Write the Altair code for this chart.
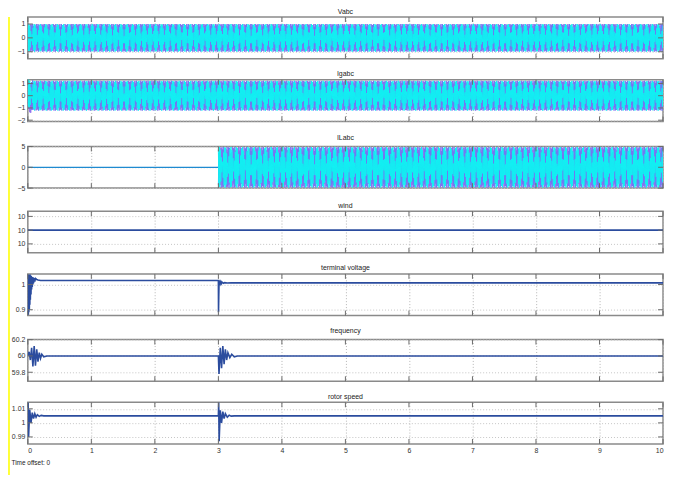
import numpy as np
import pandas as pd
import altair as alt

# ---------------- chart content ----------------
TITLES = ["Vabc", "Igabc", "ILabc", "wind", "terminal voltage", "frequency", "rotor speed"]
T_DOMAIN = [0, 10]
T_TICKS = [0, 1, 2, 3, 4, 5, 6, 7, 8, 9, 10]

# three-phase scope traces (60 Hz carrier, trace sample rate of the scope)
GRID_HZ = 60.0
TRACE_RATE = 131.0
PHASE_DEG = [0.0, -120.0, 120.0]
PHASE_COLORS = ["#8F6EEE", "#6E7AF2", "#12F0F2"]

VABC_AMP = 1.0
IGABC_AMP = 1.22
IGABC_DC = [-0.8, 0.4, 0.4]
IGABC_DC_TAU = 0.03
ILABC_AMP = 4.9
ILABC_START = 3.0

# y ranges and tick values
VABC_Y, VABC_TICKS = [-1.5, 1.5], [-1, 0, 1]
IGABC_Y, IGABC_TICKS = [-2.1, 1.3], [-2, -1, 0, 1]
ILABC_Y, ILABC_TICKS = [-5, 5], [-5, 0, 5]
WIND_Y, WIND_TICKS = [9.99835, 10.00138], [9.999, 10.0, 10.001]
TV_Y, TV_TICKS = [0.877, 1.042], [0.9, 1.0]
FR_Y, FR_TICKS = [59.69, 60.2], [59.8, 60.0, 60.2]
RS_Y, RS_TICKS = [0.985, 1.0146], [0.99, 1.0, 1.01]

# slow signals
ILPRE_T = [0, 3.0]
ILPRE_V = [0, 0]

WIND_T = [0, 10]
WIND_V = [10.0, 10.0]

TV_T = [0, .004, .008, .012, .016, .02, .024, .028, .032, .036, .04, .045, .05, .055,
        .06, .065, .07, .075, .08, .085, .09, .1, .11, .12, .14, .16, .2,
        2.998, 3.0, 3.002, 3.006, 3.01, 3.015, 3.02, 3.03, 3.04, 3.05, 3.06, 3.08, 3.1,
        3.14, 3.2, 10]
TV_V = [0.88, 1.04, 0.88, 1.04, 0.89, 1.04, 0.90, 1.04, 0.92, 1.04, 0.94, 1.035, 0.96, 1.035,
        0.98, 1.03, 0.99, 1.03, 1.0, 1.028, 1.005, 1.025, 1.012, 1.024, 1.02, 1.018, 1.016,
        1.016, 1.016, 0.89, 0.95, 1.0, 1.01, 1.012, 1.003, 1.011, 1.004, 1.009, 1.005, 1.0075,
        1.0062, 1.0066, 1.0065]

FR_T = [0, 0.02, 0.04, 0.06, 0.08, 0.1, 0.12, 0.14, 0.16, 0.18, 0.2, 0.22, 0.25, 0.3,
        3.0, 3.01, 3.03, 3.05, 3.07, 3.09, 3.11, 3.13, 3.15, 3.18, 3.21, 3.25, 3.3, 10]
FR_V = [60.0, 60.05, 59.95, 60.1, 59.87, 60.12, 59.88, 60.08, 59.93, 60.04, 59.97, 60.02, 59.99, 60.0,
        60.0, 59.78, 60.1, 59.85, 60.12, 59.9, 60.08, 59.95, 60.04, 59.98, 60.02, 59.99, 60.0, 60.0]

RS_T = [0, 0.005, 0.012, 0.03, 0.05, 0.07, 0.09, 0.11, 0.13, 0.15, 0.18, 0.21, 0.25, 0.3,
        3.0, 3.005, 3.012, 3.03, 3.05, 3.07, 3.09, 3.11, 3.14, 3.17, 3.2, 3.25, 10]
RS_V = [1.014, 1.0145, 0.99, 1.0095, 1.0, 1.0073, 1.003, 1.0065, 1.004, 1.0058, 1.0046, 1.0053, 1.005, 1.005,
        1.005, 1.0145, 0.987, 1.009, 1.0, 1.008, 1.003, 1.0065, 1.004, 1.0055, 1.0048, 1.005, 1.005]

# ---------------- styling ----------------
PANEL_W = 641
PANEL_H = 42
LINE_BLUE = "#2B4C9E"
FONT = "Liberation Sans"


def band(amp, phase_deg, t_start=0.0, dc=0.0, tau=1.0):
    k = np.arange(int(round(t_start * TRACE_RATE)), int(T_DOMAIN[1] * TRACE_RATE) + 1)
    t = k / TRACE_RATE
    v = amp * np.sin(2 * np.pi * GRID_HZ * t + np.deg2rad(phase_deg)) + dc * np.exp(-(t - t_start) / tau)
    return pd.DataFrame({"t": t, "v": v})


def series(ts, vs):
    return pd.DataFrame({"t": ts, "v": vs})


def panel(lines, ydom, yticks, title, bottom=False, label_expr=None):
    x_axis = alt.Axis(values=T_TICKS, grid=True, gridColor="#b4b4b4", gridDash=[1, 2],
                      ticks=False, domain=False, labels=bottom,
                      labelFontSize=7, labelPadding=3, labelColor="#333",
                      title="Time offset:  0" if bottom else None,
                      titleFontSize=6.5, titleFontWeight="normal", titleColor="#222",
                      titleAnchor="start", titleAlign="left", titleX=-17, titleY=19,
                      titleBaseline="middle")
    y_kwargs = dict(values=yticks, grid=True, gridColor="#c4c4c4", gridDash=[1, 2],
                    ticks=False, domain=False, labelFontSize=7, labelPadding=3,
                    labelColor="#333", minExtent=16, maxExtent=16, title=None)
    if label_expr:
        y_kwargs["labelExpr"] = label_expr
    else:
        y_kwargs["format"] = "~g"
    y_axis = alt.Axis(**y_kwargs)
    xs = alt.Scale(domain=T_DOMAIN, nice=False, zero=False)
    ys = alt.Scale(domain=ydom, nice=False, zero=False)
    X = alt.X("t:Q", scale=xs, axis=x_axis)
    Y = alt.Y("v:Q", scale=ys, axis=y_axis)

    layers = []
    for df, color, width in lines:
        layers.append(
            alt.Chart(df).mark_line(color=color, strokeWidth=width, clip=True).encode(
                x=X, y=Y, order="t:Q")
        )
    xt = pd.DataFrame({"t": T_TICKS})
    yt = pd.DataFrame({"v": yticks})
    tick_col = "#6a6a6a"
    layers.append(alt.Chart(xt).mark_rule(color=tick_col, strokeWidth=1).encode(
        x=X, y=alt.value(0), y2=alt.value(5)))
    layers.append(alt.Chart(xt).mark_rule(color=tick_col, strokeWidth=1).encode(
        x=X, y=alt.value(PANEL_H - 5), y2=alt.value(PANEL_H)))
    layers.append(alt.Chart(yt).mark_rule(color=tick_col, strokeWidth=1).encode(
        y=Y, x=alt.value(0), x2=alt.value(5)))
    layers.append(alt.Chart(yt).mark_rule(color=tick_col, strokeWidth=1).encode(
        y=Y, x=alt.value(PANEL_W - 5), x2=alt.value(PANEL_W)))
    return alt.layer(*layers).properties(
        width=PANEL_W, height=PANEL_H,
        title=alt.TitleParams(text=title, fontSize=7, fontWeight="normal", offset=2,
                              color="#222", font=FONT, anchor="middle"),
    )


vabc = [(band(VABC_AMP, PHASE_DEG[i]), PHASE_COLORS[i], 1) for i in range(3)]
igabc = [(band(IGABC_AMP, PHASE_DEG[i], dc=IGABC_DC[i], tau=IGABC_DC_TAU), PHASE_COLORS[i], 1) for i in range(3)]
ilabc = [(series(ILPRE_T, ILPRE_V), "#1F8AD0", 1.3)] + \
        [(band(ILABC_AMP, PHASE_DEG[i], t_start=ILABC_START), PHASE_COLORS[i], 1) for i in range(3)]

panels = [
    panel(vabc, VABC_Y, VABC_TICKS, TITLES[0]),
    panel(igabc, IGABC_Y, IGABC_TICKS, TITLES[1]),
    panel(ilabc, ILABC_Y, ILABC_TICKS, TITLES[2]),
    panel([(series(WIND_T, WIND_V), LINE_BLUE, 1.6)], WIND_Y, WIND_TICKS, TITLES[3], label_expr="'10'"),
    panel([(series(TV_T, TV_V), LINE_BLUE, 1.6)], TV_Y, TV_TICKS, TITLES[4]),
    panel([(series(FR_T, FR_V), LINE_BLUE, 1.6)], FR_Y, FR_TICKS, TITLES[5]),
    panel([(series(RS_T, RS_V), LINE_BLUE, 1.6)], RS_Y, RS_TICKS, TITLES[6], bottom=True),
]

stack = alt.vconcat(*panels, spacing=8.3)

yellow = alt.Chart(pd.DataFrame({"a": [0]})).mark_point(opacity=0, size=1).properties(
    width=3, height=462,
    view=alt.ViewBackground(fill="#FFFF38", strokeWidth=0),
)

chart = alt.hconcat(yellow, stack, spacing=0).properties(
    padding={"left": -1, "top": -4, "right": 0, "bottom": 0},
    background="white",
).configure_view(
    stroke="#8a8a8a", strokeWidth=1.5
).configure_axis(
    labelFont=FONT, titleFont=FONT
)

chart.save("out.html", embed_options={"renderer": "svg", "actions": False})
